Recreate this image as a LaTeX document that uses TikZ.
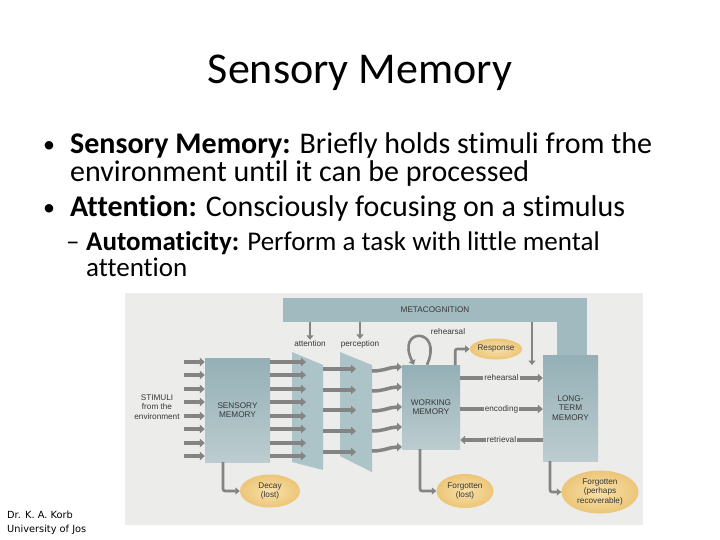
\documentclass[tikz,border=0pt]{standalone}
\usepackage{fontspec}
\setmainfont{Carlito}[Ligatures=NoCommon]
\newfontfamily\figfont{Liberation Sans}
\newfontfamily\footfont{DejaVu Sans}
\usetikzlibrary{arrows.meta, shapes.geometric}

\definecolor{photobg}{RGB}{236,236,234}
\definecolor{boxtop}{RGB}{148,176,182}
\definecolor{boxbot}{RGB}{188,204,207}
\definecolor{barfill}{RGB}{160,186,191}
\definecolor{funnel}{RGB}{172,196,199}
\definecolor{arrowgray}{RGB}{132,132,132}
\definecolor{figtext}{RGB}{55,55,55}
\definecolor{oval}{RGB}{236,198,120}
\definecolor{ovalin}{RGB}{248,224,170}

\begin{document}
\begin{tikzpicture}[
    x=1pt, y=-1pt,
    title/.style={font=\fontsize{44}{50}\selectfont, anchor=base, inner sep=0pt},
    textline/.style={font=\fontsize{30}{34}\selectfont, anchor=base west, inner sep=0pt},
    subline/.style={font=\fontsize{27}{30}\selectfont, anchor=base west, inner sep=0pt},
    dot/.style={font=\fontsize{24}{28}\selectfont, anchor=base west, inner sep=0pt},
    footline/.style={font=\footfont\fontsize{9.8}{12}\selectfont, anchor=base west, inner sep=0pt},
    figlabel/.style={font=\figfont\fontsize{8.2}{9.6}\selectfont, text=figtext, align=center, inner sep=1pt},
    store/.style={figlabel, rectangle, top color=boxtop, bottom color=boxbot},
    outcome/.style={figlabel, ellipse, inner color=ovalin, outer color=oval, inner sep=0pt},
    fat/.style={draw=arrowgray, line width=3.5pt, -{Triangle[length=5pt, width=8.5pt]}},
    slim/.style={draw=arrowgray, line width=2.6pt, rounded corners=2pt, -{Triangle[length=4.5pt, width=7pt]}},
]
\useasboundingbox (0,0) rectangle (720,540);

% slide text
\node[title] (head) at (360,84) {Sensory Memory};
\node[dot] (b1) at (43,153) {\textbullet};
\node[textline] (t1) at (70,153.5) {\textbf{Sensory Memory:} Briefly holds stimuli from the};
\node[textline] (t2) at (70,182) {environment until it can be processed};
\node[dot] (b2) at (43,215) {\textbullet};
\node[textline] (t3) at (70,216) {\textbf{Attention:} Consciously focusing on a stimulus};
\node[subline] (d1) at (66,250) {\textendash};
\node[subline] (t4) at (86,250) {\textbf{Automaticity:} Perform a task with little mental};
\node[subline] (t5) at (86,276) {attention};
\node[footline] (f1) at (7,518) {Dr. K. A. Korb};
\node[footline] (f2) at (7,532) {University of Jos};

% the figure
\fill[photobg] (125,293) rectangle (643,525);

% metacognition band
\node[figlabel, fill=barfill, minimum width=304pt, minimum height=24pt] (meta) at (435,310) {METACOGNITION};
\fill[barfill] (557,321) rectangle (587,357);

% funnels
\fill[funnel] (292,352) -- (323,365) -- (323,470) -- (292,462) -- cycle;
\fill[funnel] (340,352) -- (372,365) -- (372,472) -- (340,456) -- cycle;

% stores
\node[store, minimum width=65pt, minimum height=104pt] (sm) at (237.5,410) {SENSORY\\MEMORY};
\node[store, minimum width=58pt, minimum height=84pt] (wm) at (431,407) {WORKING\\MEMORY};
\node[store, minimum width=55pt, minimum height=106pt] (ltm) at (570.5,408) {LONG-\\TERM\\MEMORY};

\node[figlabel] (stim) at (157,407) {STIMULI\\from the\\environment};
\node[figlabel] (att) at (310,344) {attention};
\node[figlabel] (perc) at (360,344) {perception};
\node[figlabel] (loop) at (448,332) {rehearsal};

% outcomes
\node[outcome, minimum width=47pt, minimum height=21pt] (resp) at (496,349) {Response};
\node[outcome, minimum width=60pt, minimum height=33pt] (decay) at (270,491) {Decay\\(lost)};
\node[outcome, minimum width=57pt, minimum height=34pt] (lost) at (465,491) {Forgotten\\(lost)};
\node[outcome, minimum width=77pt, minimum height=43pt] (recov) at (600,492) {Forgotten\\(perhaps\\recoverable)};

% stimuli in and out of sensory memory
\foreach \y [count=\i] in {362,375,389,402,416,429,443,456} {
    \coordinate (s\i) at (184,\y);
    \coordinate (a\i) at (306,\y);
    \draw[fat] (s\i) -- (s\i -| sm.west);
    \draw[fat] (s\i -| sm.east) -- (a\i);
}
% attention to perception
\foreach \y [count=\i] in {369,390,410,431,452} {
    \coordinate (b\i) at (323,\y);
    \coordinate (c\i) at (356,\y);
    \draw[fat] (b\i) -- (c\i);
}
% perception to working memory
\foreach \y/\z [count=\i] in {371/367,391/387,411/407,431/427,451/447} {
    \coordinate (p\i) at (372,\y);
    \coordinate (w\i) at (402,\z);
    \draw[fat] (p\i) .. controls +(12,0) and +(-12,0) .. (w\i);
}

% control from metacognition
\coordinate (ltmtip) at (532,365);
\draw[slim] (meta.south -| att) -- (att.north);
\draw[slim] (meta.south -| perc) -- (perc.north);
\draw[slim] (meta.south -| ltmtip) -- (ltmtip);

% rehearsal loop and response
\draw[slim] ([xshift=-4pt]wm.north) .. controls +(17,-38) and +(-19,-38) .. ([xshift=-17pt]wm.north);
\draw[slim] ([xshift=-5pt]wm.north east) |- (resp.west);

% working memory <-> long-term memory
\coordinate (rh) at (462,378);
\coordinate (en) at (462,409);
\coordinate (rt) at (462,440);
\draw[fat] (wm.east |- rh) -- node[figlabel, fill=photobg] {rehearsal} (ltm.west |- rh);
\draw[fat] (wm.east |- en) -- node[figlabel, fill=photobg] {encoding} (ltm.west |- en);
\draw[fat] (ltm.west |- rt) -- node[figlabel, fill=photobg] {retrieval} (wm.east |- rt);

% losses
\draw[slim] ([xshift=-14.5pt]sm.south) |- (decay.west);
\draw[slim] ([xshift=-11pt]wm.south) |- (lost.west);
\draw[slim] ([xshift=-20.5pt]ltm.south) |- (recov.west);
\end{tikzpicture}
\end{document}
